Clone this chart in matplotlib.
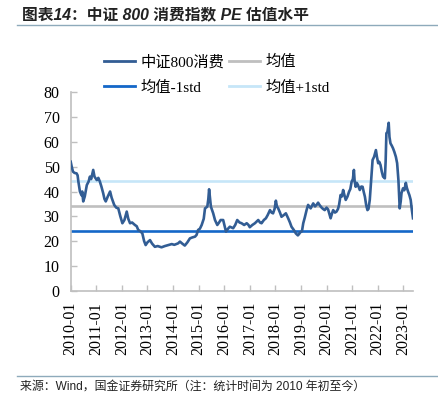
import matplotlib
matplotlib.use('Agg')
import matplotlib.pyplot as plt
from matplotlib.lines import Line2D

# PE of CSI 800 Consumer index (decimal year, PE)
years = [
    2010.00, 2010.04, 2010.09, 2010.15, 2010.23, 2010.27, 2010.30, 2010.36, 2010.42, 2010.45,
    2010.49, 2010.55, 2010.63, 2010.70, 2010.75, 2010.80, 2010.88, 2010.93, 2011.02, 2011.08,
    2011.14, 2011.20, 2011.27, 2011.32, 2011.37, 2011.45, 2011.54, 2011.60, 2011.70, 2011.78,
    2011.86, 2011.94, 2012.02, 2012.10, 2012.19, 2012.25, 2012.32, 2012.40, 2012.51, 2012.58,
    2012.64, 2012.72, 2012.80, 2012.87, 2012.93, 2013.00, 2013.10, 2013.18, 2013.29, 2013.40,
    2013.55, 2013.68, 2013.81, 2013.95, 2014.05, 2014.20, 2014.27, 2014.36, 2014.46, 2014.56,
    2014.66, 2014.76, 2014.86, 2014.92, 2014.98, 2015.05, 2015.12, 2015.20, 2015.25, 2015.34,
    2015.38, 2015.41, 2015.45, 2015.48, 2015.57, 2015.64, 2015.73, 2015.80, 2015.86, 2015.96,
    2016.02, 2016.07, 2016.15, 2016.22, 2016.35, 2016.43, 2016.51, 2016.60, 2016.68, 2016.78,
    2016.88, 2016.95, 2017.00, 2017.10, 2017.20, 2017.33, 2017.40, 2017.46, 2017.55, 2017.63,
    2017.70, 2017.79, 2017.85, 2017.91, 2017.97, 2018.02, 2018.06, 2018.11, 2018.18, 2018.24,
    2018.33, 2018.41, 2018.50, 2018.57, 2018.63, 2018.72, 2018.80, 2018.88, 2018.93, 2018.97,
    2019.04, 2019.09, 2019.15, 2019.22, 2019.28, 2019.38, 2019.48, 2019.55, 2019.61, 2019.67,
    2019.73, 2019.80, 2019.86, 2019.93, 2020.00, 2020.06, 2020.11, 2020.16, 2020.21, 2020.26,
    2020.33, 2020.39, 2020.45, 2020.49, 2020.55, 2020.60, 2020.65, 2020.70, 2020.75, 2020.82,
    2020.88, 2020.93, 2020.98, 2021.03, 2021.07, 2021.10, 2021.14, 2021.18, 2021.23, 2021.30,
    2021.36, 2021.41, 2021.45, 2021.50, 2021.55, 2021.60, 2021.64, 2021.69, 2021.74, 2021.80,
    2021.86, 2021.93, 2021.97, 2022.02, 2022.06, 2022.11, 2022.16, 2022.21, 2022.28, 2022.31,
    2022.34, 2022.38, 2022.43, 2022.46, 2022.50, 2022.55, 2022.60, 2022.65, 2022.71, 2022.76,
    2022.81, 2022.86, 2022.90, 2022.93, 2022.99, 2023.04, 2023.10, 2023.14, 2023.19, 2023.24,
    2023.29, 2023.33, 2023.38,
]
pe = [
    52.0, 50.0, 48.0, 47.5, 47.3, 46.5, 44.0, 40.0, 38.5, 40.0,
    36.0, 38.0, 42.6, 44.0, 46.0, 45.0, 48.7, 46.0, 44.6, 45.5,
    44.0, 42.0, 39.3, 37.0, 36.0, 38.0, 40.0, 37.5, 34.6, 33.5,
    33.2, 30.0, 27.2, 28.5, 31.9, 29.0, 27.2, 27.5, 26.5, 26.0,
    24.5, 24.0, 23.1, 20.0, 18.4, 19.5, 20.4, 19.0, 17.7, 18.0,
    17.5, 18.0, 18.4, 18.8, 18.5, 19.1, 19.8, 19.0, 18.2, 19.5,
    21.1, 21.5, 21.8, 22.5, 24.5, 25.0, 26.5, 29.0, 33.2, 33.9,
    37.0, 40.9, 37.0, 33.9, 31.2, 28.5, 26.5, 27.5, 28.5, 28.5,
    26.0, 23.8, 25.0, 25.8, 25.2, 26.5, 28.5, 27.5, 27.2, 26.5,
    27.2, 26.5, 25.6, 26.5, 27.2, 28.5, 27.5, 27.2, 28.5, 29.2,
    30.5, 32.5, 31.5, 31.2, 33.0, 36.3, 34.0, 33.2, 31.5, 29.8,
    30.5, 31.2, 29.2, 27.5, 25.8, 24.5, 23.1, 22.3, 22.9, 23.5,
    24.0, 27.2, 29.5, 32.5, 34.6, 33.2, 35.2, 34.0, 34.6, 35.5,
    34.5, 33.6, 33.0, 32.5, 33.5, 32.8, 31.0, 29.2, 31.0, 32.5,
    31.5, 31.9, 33.0, 34.6, 38.6, 38.0, 40.6, 38.5, 36.6, 38.0,
    39.9, 41.0, 43.9, 45.0, 48.7, 44.0, 41.9, 43.5, 42.6, 40.6,
    42.0, 41.9, 40.0, 37.9, 34.5, 32.5, 33.0, 36.6, 44.0, 52.7,
    54.0, 56.7, 54.0, 51.4, 52.0, 50.7, 48.0, 46.0, 45.3, 52.0,
    63.5, 64.0, 67.7, 62.0, 59.4, 58.5, 57.4, 56.0, 54.0, 51.4,
    44.6, 33.2, 36.0, 39.3, 41.3, 40.5, 43.5, 41.5, 39.9, 38.5,
    36.6, 33.0, 29.2,
]
pe_mean = 34.2
pe_minus_std = 24.1
pe_plus_std = 44.3

tick_years = list(range(2010, 2024))
tick_labels = [f'{y}-01' for y in tick_years]

serif = ['Liberation Serif', 'Noto Sans CJK SC']
sans = ['Liberation Sans', 'Noto Sans CJK SC']

fig = plt.figure(figsize=(4.38, 3.97), dpi=100)
ax = fig.add_axes([70.7 / 438, 1 - 290.7 / 397, (413 - 70.7) / 438, (290.7 - 92.3) / 397])

ax.axhline(pe_plus_std, color='#c6e6f8', linewidth=1.9, zorder=1)
ax.axhline(pe_mean, color='#bfbfbf', linewidth=1.9, zorder=1)
ax.axhline(pe_minus_std, color='#1467c8', linewidth=1.9, zorder=1)
ax.plot(years, pe, color='#325d94', linewidth=1.9, zorder=3)

ax.set_xlim(years[0], years[-1])
ax.set_ylim(0, 80)
ax.set_yticks(range(0, 81, 10))
ax.set_xticks(tick_years)
ax.set_xticklabels(tick_labels, rotation=90)
for lab in ax.get_xticklabels() + ax.get_yticklabels():
    lab.set_family(serif)
    lab.set_fontsize(11.5)
ax.tick_params(axis='both', direction='in', length=4, color='#bfbfbf', width=1)
ax.tick_params(axis='x', pad=8)
ax.tick_params(axis='y', pad=8)
for side in ['top', 'right']:
    ax.spines[side].set_visible(False)
for side in ['left', 'bottom']:
    ax.spines[side].set_color('#bfbfbf')
    ax.spines[side].set_linewidth(1.2)

# legend: row 1 = series, mean; row 2 = -1std, +1std
handles = [
    Line2D([], [], color='#325d94', linewidth=2),
    Line2D([], [], color='#1467c8', linewidth=2),
    Line2D([], [], color='#bfbfbf', linewidth=2),
    Line2D([], [], color='#c6e6f8', linewidth=2),
]
labels = ['中证800消费', '均值-1std', '均值', '均值+1std']
fig.legend(handles, labels, loc='upper left', bbox_to_anchor=(104 / 438, 1 - 55 / 397),
           ncol=2, frameon=False, prop={'family': serif, 'size': 11},
           handlelength=2.0, handletextpad=0.4, columnspacing=0.3,
           labelspacing=0.72, borderpad=0, borderaxespad=0)

fig.text(22 / 438, 1 - 15 / 397, '图表14：中证 800 消费指数 PE 估值水平',
         family=sans, fontsize=11.3, weight='bold', style='italic',
         color='#222222', va='center', ha='left')
fig.add_artist(Line2D([17 / 438, 1], [1 - 24.5 / 397] * 2, color='#8eaabb', linewidth=1))
fig.add_artist(Line2D([17 / 438, 1], [1 - 375.5 / 397] * 2, color='#8eaabb', linewidth=1))
fig.text(20 / 438, 1 - 387 / 397, '来源：Wind，国金证券研究所（注：统计时间为 2010 年初至今）',
         family=sans, fontsize=8.6, color='#222222', va='center', ha='left')

fig.savefig('out.png', dpi=100)
